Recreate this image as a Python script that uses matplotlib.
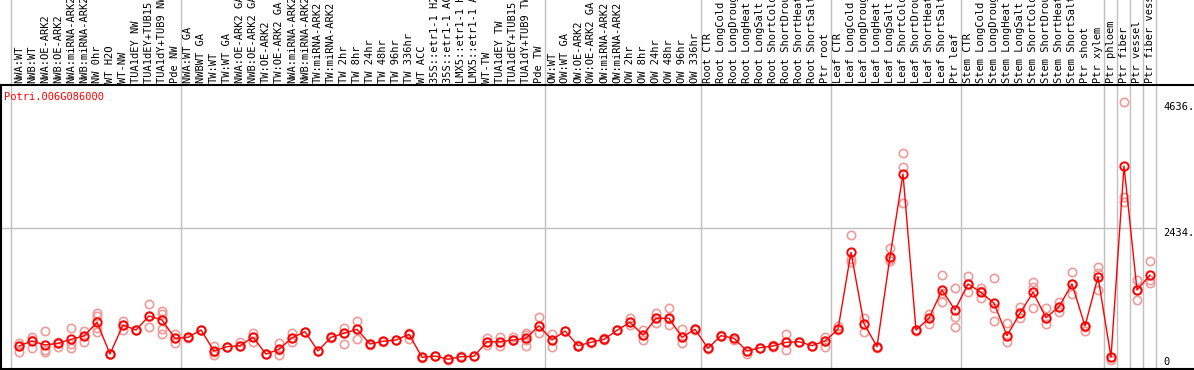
import matplotlib
matplotlib.use("Agg")
import matplotlib.pyplot as plt
import numpy as np

gene = "Potri.006G086000"

labels = ["NWA:WT", "NWB:WT", "NWA:OE-ARK2", "NWB:OE-ARK2", "NWA:miRNA-ARK2", "NWB:miRNA-ARK2",
          "NW 0hr", "WT H2O", "WT-NW", "TUA1dEY NW", "TUA1dEY+TUB15 NW", "TUA1dY+TUB9 NW", "Pde NW",
          "NWA:WT GA", "NWBWT GA", "TW:WT", "TW:WT GA", "NWA:OE-ARK2 GA", "NWB:OE-ARK2 GA",
          "TW:OE-ARK2", "TW:OE-ARK2 GA", "NWA:miRNA-ARK2", "NWB:miRNA-ARK2", "TW:miRNA-ARK2",
          "TW:miRNA-ARK2", "TW 2hr", "TW 8hr", "TW 24hr", "TW 48hr", "TW 96hr", "TW 336hr", "WT ACC",
          "35S::etr1-1 H2O", "35S::etr1-1 ACC", "LMX5::etr1-1 H2O", "LMX5::etr1-1 ACC", "WT-TW",
          "TUA1dEY TW", "TUA1dEY+TUB15 TW", "TUA1dY+TUB9 TW", "Pde TW",
          "OW:WT", "OW:WT GA", "OW:OE-ARK2", "OW:OE-ARK2 GA", "OW:miRNA-ARK2", "OW:miRNA-ARK2",
          "OW 2hr", "OW 8hr", "OW 24hr", "OW 48hr", "OW 96hr", "OW 336hr",
          "Root CTR", "Root LongCold", "Root LongDrought", "Root LongHeat", "Root LongSalt",
          "Root ShortCold", "Root ShortDrought", "Root ShortHeat", "Root ShortSalt", "Ptr root",
          "Leaf CTR", "Leaf LongCold", "Leaf LongDrought", "Leaf LongHeat", "Leaf LongSalt",
          "Leaf ShortCold", "Leaf ShortDrought", "Leaf ShortHeat", "Leaf ShortSalt", "Ptr leaf",
          "Stem CTR", "Stem LongCold", "Stem LongDrought", "Stem LongHeat", "Stem LongSalt",
          "Stem ShortCold", "Stem ShortDrought", "Stem ShortHeat", "Stem ShortSalt", "Ptr shoot",
          "Ptr xylem", "Ptr phloem", "Ptr fiber", "Ptr vessel", "Ptr fiber vessel"]

# mean expression per sample
means = [367, 455, 385, 414, 484, 542, 781, 227, 734, 647, 892, 822, 501,
         519, 647, 280, 355, 373, 519, 227, 309, 510, 617, 280, 519, 589, 659, 402,
         449, 472, 571, 170, 192, 135, 180, 187, 442, 442, 472, 501, 722,
         472, 629, 373, 431, 484, 641, 781, 559, 851, 851, 519, 659,
         327, 548, 501, 280, 338, 367, 431, 442, 373, 455,
         659, 2005, 757, 355, 1928, 3374, 647, 851, 1346, 997,
         1451, 1306, 1114, 548, 939, 1306, 862, 1054, 1451, 717,
         1579, 169, 3514, 1346, 1608]

# replicate values per sample
reps = [[425, 268, 360], [530, 338, 480], [629, 268, 297], [355, 440, 420], [676, 338, 400],
        [629, 442, 550], [939, 891, 617, 680], [227, 220, 235], [809, 647, 740], [647, 640],
        [1101, 705, 890], [985, 921, 577, 660], [577, 414, 500],
        [519, 510], [647, 650], [367, 210, 270], [355, 350], [432, 373, 360], [600, 442, 520],
        [227, 230], [414, 210, 300], [589, 442, 510], [617, 620], [280, 275], [519, 515],
        [676, 402, 600], [804, 484, 660], [402, 390, 410], [449, 445], [472, 470], [484, 600, 580],
        [170, 160], [192, 200], [135, 125], [180, 200], [187, 185], [501, 385, 445],
        [530, 373, 440], [530, 472, 470], [600, 373, 560, 480], [869, 589, 720],
        [571, 355, 470], [629, 625], [390, 360, 373], [431, 425], [484, 500, 470], [641, 645],
        [851, 734, 780], [647, 472, 560], [939, 775, 850], [1037, 734, 840], [659, 425, 520],
        [659, 655],
        [327, 310, 340], [548, 560], [501, 470], [280, 227], [338, 335], [367, 380, 355],
        [577, 297, 431], [442, 440], [373, 365], [530, 355, 455],
        [722, 659, 640], [2308, 1883, 1841], [851, 617, 760], [355, 340], [2075, 1883, 1860],
        [3736, 3491, 2872], [647, 630], [927, 746, 851], [1608, 1288, 1142], [1376, 880, 705],
        [1591, 1316, 1450], [1376, 1201, 1330], [1551, 1026, 804], [764, 442, 548],
        [1044, 851, 939], [1492, 1404, 1026], [1026, 746, 862], [1142, 967, 1054],
        [1666, 1276, 1451], [635, 717, 700],
        [1754, 1346, 1650], [169, 120], [4636, 2977, 2890], [1521, 1171, 1346], [1848, 1474, 1520]]

group_edges = [-0.6, 12.5, 40.5, 52.5, 62.5, 72.5, 83.5, 84.5, 85.5, 86.5, 87.5]
ytick_vals = [4636, 2434, 0]

W, H = 1194, 370
mono = "DejaVu Sans Mono"
red = "#ff0000"
pink = "#f09a9a"
grey = "#c0c0c0"

fig = plt.figure(figsize=(W / 100, H / 100), dpi=100)
ax = fig.add_axes([1 / W, 1 / H, (W - 1) / W, 284 / H])

x = np.arange(len(means))
ax.set_xlim(-18 / 13, (W - 19) / 13)
ax.set_ylim(-35, 4930)

# separators (run up through the label area)
top = 369 / 284
for e in group_edges:
    ax.axvline(e, 0, top, color=grey, lw=1, clip_on=False, zorder=1)
ax.hlines(ytick_vals[1], ax.get_xlim()[0], 87.5, color=grey, lw=1, zorder=1)

for i, r in enumerate(reps):
    ax.plot([i] * len(r), r, "o", ms=6, mfc="none", mec=pink, mew=1.2, zorder=2)
ax.plot(x, means, "-", color=red, lw=1, zorder=3)
ax.plot(x, means, "o", ms=6, mfc="none", mec=red, mew=1.4, zorder=4)

trans = ax.get_xaxis_transform()
for i, lab in enumerate(labels):
    ax.text(i, 1.007, lab, rotation=90, ha="center", va="bottom", fontsize=7.5,
            family=mono, transform=trans, clip_on=False)

ax.text(88.0, ytick_vals[0], "%d." % ytick_vals[0], ha="left", va="top", fontsize=7.5, family=mono)
ax.text(88.0, ytick_vals[1], "%d." % ytick_vals[1], ha="left", va="top", fontsize=7.5, family=mono)
ax.text(88.0, ytick_vals[2], "%d" % ytick_vals[2], ha="left", va="bottom", fontsize=7.5, family=mono)

fig.text(4 / W, 1 - 97 / H, gene, color=red, fontsize=7.5, family=mono, va="center")

ax.set_xticks([])
ax.set_yticks([])
ax.spines["right"].set_visible(False)
for s in ["left", "bottom", "top"]:
    ax.spines[s].set_linewidth(1.5)

fig.savefig("out.png", dpi=100)
